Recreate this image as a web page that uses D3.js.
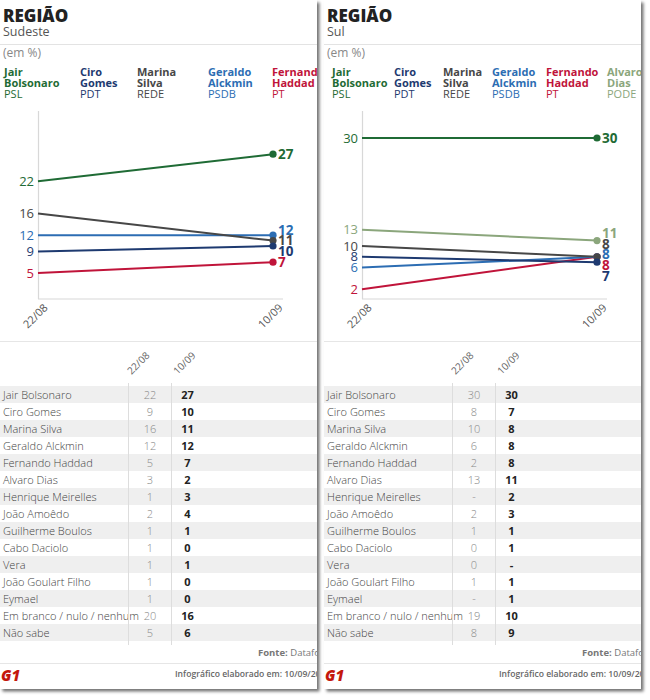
<!DOCTYPE html>
<html>
<head>
<meta charset="utf-8">
<script src="https://cdn.jsdelivr.net/npm/d3@7"></script>
<style>
  body { margin: 0; background: #fff; }
  svg { font-family: "Open Sans", sans-serif; }
</style>
</head>
<body>
<script>
// poll dates
const dates = ["22/08", "10/09"];

// table rows (first ones are also the chart series)
const candidates = [
  "Jair Bolsonaro", "Ciro Gomes", "Marina Silva", "Geraldo Alckmin",
  "Fernando Haddad", "Alvaro Dias", "Henrique Meirelles", "João Amoêdo",
  "Guilherme Boulos", "Cabo Daciolo", "Vera", "João Goulart Filho",
  "Eymael", "Em branco / nulo / nenhum", "Não sabe"
];
const parties = ["PSL", "PDT", "REDE", "PSDB", "PT", "PODE"];

// null = "-"
const sudeste2208 = [22, 9, 16, 12, 5, 3, 1, 2, 1, 1, 1, 1, 1, 20, 5];
const sudeste1009 = [27, 10, 11, 12, 7, 2, 3, 4, 1, 0, 1, 0, 0, 16, 6];
const sul2208 = [30, 8, 10, 6, 2, 13, null, 2, 1, 0, 0, 1, null, 19, 8];
const sul1009 = [30, 7, 8, 8, 8, 11, 2, 3, 1, 1, null, 1, 1, 10, 9];

const colors = ["#1f6b35", "#1e3a70", "#474747", "#2c6db3", "#c0143a", "#8ba67c"];

const PW = 317, PH = 689;

const svg = d3.select("body").append("svg")
  .attr("width", 650)
  .attr("height", 700);

const defs = svg.append("defs");
defs.append("filter").attr("id", "shadow")
  .attr("x", "-5%").attr("y", "-5%").attr("width", "115%").attr("height", "115%")
  .append("feDropShadow")
  .attr("dx", 2.5).attr("dy", 2.5).attr("stdDeviation", 1.6)
  .attr("flood-color", "#000").attr("flood-opacity", 0.55);
defs.append("clipPath").attr("id", "clip")
  .append("rect").attr("width", PW).attr("height", PH);

const panels = [
  { x: 0, region: "Sudeste", n: 5, a: sudeste2208, b: sudeste1009, legendX: [4, 80, 137, 208, 272] },
  { x: 324, region: "Sul", n: 6, a: sul2208, b: sul1009, legendX: [8, 70, 119, 168, 222, 283] }
];

const y = d3.scaleLinear().domain([0, 35]).range([300, 111]);
const x = d3.scalePoint().domain(dates).range([38, 273]);

// push overlapping labels apart
function spread(items, gap) {
  items.sort((p, q) => p.y - q.y || p.i - q.i);
  for (let k = 0; k < 60; k++) {
    for (let i = 1; i < items.length; i++) {
      const d = items[i].y - items[i - 1].y;
      if (d < gap) {
        const s = (gap - d) / 2;
        items[i].y += s;
        items[i - 1].y -= s;
      }
    }
  }
  return items;
}

function drawPanel(p) {
  const outer = svg.append("g").attr("transform", `translate(${p.x},0)`);
  outer.append("rect").attr("width", PW).attr("height", PH)
    .attr("fill", "#fff").attr("filter", "url(#shadow)");
  const g = outer.append("g").attr("clip-path", "url(#clip)");

  // header
  g.append("text").attr("x", 3).attr("y", 22)
    .attr("font-size", 17).attr("font-weight", 800).attr("fill", "#222")
    .text("REGIÃO");
  g.append("text").attr("x", 3).attr("y", 36)
    .attr("font-size", 12.5).attr("fill", "#555").text(p.region);
  g.append("line").attr("x1", 0).attr("x2", PW).attr("y1", 44.5).attr("y2", 44.5)
    .attr("stroke", "#e3e3e3");
  g.append("text").attr("x", 3).attr("y", 57)
    .attr("font-size", 12).attr("fill", "#888").text("(em %)");

  const series = d3.range(p.n).map(i => ({
    i, name: candidates[i], color: colors[i], v: [p.a[i], p.b[i]]
  }));

  // legend
  const leg = g.selectAll("g.leg").data(series).join("g")
    .attr("transform", d => `translate(${p.legendX[d.i]},0)`)
    .attr("font-size", 11).attr("fill", d => d.color);
  leg.each(function (d) {
    const sel = d3.select(this);
    d.name.split(" ").forEach((w, j) => {
      sel.append("text").attr("y", 76 + j * 10.5).attr("font-weight", 700).text(w);
    });
    sel.append("text").attr("y", 97.5).text(parties[d.i]);
  });

  // axes frame
  g.append("line").attr("x1", x(dates[0]) + 0.5).attr("x2", x(dates[0]) + 0.5)
    .attr("y1", 111).attr("y2", 299).attr("stroke", "#d8d8d8").attr("stroke-width", 1.2);
  g.append("line").attr("x1", x(dates[0])).attr("x2", x(dates[1]) + 10)
    .attr("y1", 299).attr("y2", 299).attr("stroke", "#d8d8d8").attr("stroke-width", 1.2);

  g.selectAll("text.tick").data(dates).join("text")
    .attr("transform", d => `translate(${x(d) + 5},303) rotate(-45)`)
    .attr("text-anchor", "end").attr("dy", "0.7em")
    .attr("font-size", 11).attr("fill", "#555").text(d => d);

  const line = d3.line().x((v, j) => x(dates[j])).y(v => y(v));
  const order = series.slice().reverse();
  g.append("g").selectAll("path").data(order).join("path")
    .attr("d", d => line(d.v)).attr("fill", "none")
    .attr("stroke", d => d.color).attr("stroke-width", 2);
  g.append("g").selectAll("circle").data(order).join("circle")
    .attr("cx", x(dates[1])).attr("cy", d => y(d.v[1])).attr("r", 3.6)
    .attr("fill", d => d.color);

  const startLabels = spread(series.map(d => ({ i: d.i, d, y: y(d.v[0]) })), 10.5);
  g.append("g").selectAll("text").data(startLabels).join("text")
    .attr("x", x(dates[0]) - 4).attr("y", l => l.y).attr("dy", "0.35em")
    .attr("text-anchor", "end").attr("font-size", 13)
    .attr("fill", l => l.d.color).text(l => l.d.v[0]);

  const endLabels = spread(series.map(d => ({ i: d.i, d, y: y(d.v[1]) })), 10.8);
  g.append("g").selectAll("text").data(endLabels).join("text")
    .attr("x", x(dates[1]) + 5).attr("y", l => l.y).attr("dy", "0.35em")
    .attr("font-size", 13.5).attr("font-weight", 700)
    .attr("fill", l => l.d.color).text(l => l.d.v[1]);

  g.append("line").attr("x1", 0).attr("x2", PW).attr("y1", 341.5).attr("y2", 341.5)
    .attr("stroke", "#e6e6e6");

  // table
  const sep1 = 128.5, sep2 = 171.5, top = 386, rh = 17;
  const fmt = v => (v == null ? "-" : v);
  const rows = g.append("g").selectAll("g").data(candidates).join("g")
    .attr("transform", (d, i) => `translate(0,${top + i * rh})`);
  rows.filter((d, i) => i % 2 === 0).append("rect")
    .attr("width", PW).attr("height", rh).attr("fill", "#efefef");
  rows.append("text").attr("x", 3).attr("y", 12.5)
    .attr("font-size", 11).attr("font-weight", 300).attr("fill", "#444").text(d => d);
  rows.append("text").attr("x", (sep1 + sep2) / 2).attr("y", 12.5)
    .attr("text-anchor", "middle").attr("font-size", 11).attr("font-weight", 300)
    .attr("fill", "#888").text((d, i) => fmt(p.a[i]));
  rows.append("text").attr("x", sep2 + 16).attr("y", 12.5)
    .attr("text-anchor", "middle").attr("font-size", 11).attr("font-weight", 700)
    .attr("fill", "#222").text((d, i) => fmt(p.b[i]));

  [sep1, sep2].forEach(s => {
    g.append("line").attr("x1", s).attr("x2", s).attr("y1", 383).attr("y2", 645)
      .attr("stroke", "#ddd");
  });
  [[sep1 + 3, dates[0]], [sep2 + 6, dates[1]]].forEach(([hx, t]) => {
    g.append("text").attr("transform", `translate(${hx},375) rotate(-45)`)
      .attr("font-size", 10).attr("fill", "#666").text(t);
  });

  // footer
  const fonte = g.append("text").attr("x", 258).attr("y", 656)
    .attr("font-size", 9.5).attr("fill", "#777");
  fonte.append("tspan").attr("font-weight", 700).text("Fonte: ");
  fonte.append("tspan").text("Datafolha");
  g.append("line").attr("x1", 0).attr("x2", PW).attr("y1", 663.5).attr("y2", 663.5)
    .attr("stroke", "#e6e6e6");
  g.append("text").attr("x", 175).attr("y", 677)
    .attr("font-size", 8.6).attr("font-weight", 600)
    .attr("fill", "#666").text("Infográfico elaborado em: 10/09/2018");
  g.append("text").attr("x", 1).attr("y", 681)
    .attr("font-size", 15).attr("font-weight", 800).attr("font-style", "italic")
    .attr("fill", "#c4170c").text("G1");
}

panels.forEach(drawPanel);
</script>
</body>
</html>
